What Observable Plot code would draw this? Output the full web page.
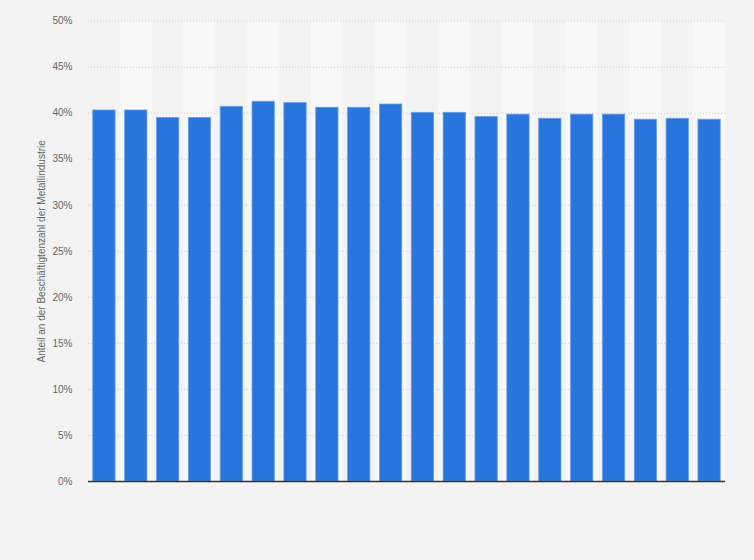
<!DOCTYPE html>
<html>
<head>
<meta charset="utf-8">
<script src="https://cdn.jsdelivr.net/npm/d3@7"></script>
<script src="https://cdn.jsdelivr.net/npm/@observablehq/plot@0.6"></script>
<style>
  html, body { margin: 0; padding: 0; background: #f3f3f3; }
  #chart { width: 754px; height: 560px; }
</style>
</head>
<body>
<div id="chart"></div>
<script>
const categories = ["2000","2001","2002","2003","2004","2005","2006","2007","2008","2009",
                    "2010","2011","2012","2013","2014","2015","2016","2017","2018","2019"];
const values = [40.3, 40.3, 39.5, 39.5, 40.7, 41.25, 41.1, 40.6, 40.6, 40.95,
                40.05, 40.05, 39.6, 39.85, 39.4, 39.85, 39.85, 39.3, 39.4, 39.3];
const yTicks = [0, 5, 10, 15, 20, 25, 30, 35, 40, 45, 50];
const yLabel = "Anteil an der Beschäftigtenzahl der Metallindustrie";

const data = categories.map((c, i) => ({category: c, value: values[i], index: i}));
const lightBands = data.filter(d => d.index % 2 === 1);

const fontFamily = "'Liberation Sans', Arial, Helvetica, sans-serif";

const chart = Plot.plot({
  width: 754,
  height: 560,
  marginLeft: 88,
  marginRight: 29,
  marginTop: 20.7,
  marginBottom: 79,
  style: {background: "#f3f3f3", fontFamily, fontSize: "10px", color: "#666"},
  x: {domain: categories, paddingInner: 0.3, paddingOuter: 0.15, round: false, axis: null},
  y: {domain: [0, 50], axis: null},
  marks: [
    Plot.barY(lightBands, {x: "category", y1: 0, y2: 50, fill: "#f8f8f8",
      insetLeft: -4.8, insetRight: -4.8}),
    Plot.ruleY(yTicks.filter(t => t > 0), {stroke: "#cfcfcf", strokeDasharray: "1,2", strokeWidth: 1}),
    Plot.barY(data, {x: "category", y: "value", fill: "#2876dd", stroke: "#6b9fe6", strokeWidth: 0.8}),
    Plot.ruleY([0], {stroke: "#333", strokeWidth: 1.5}),
    Plot.axisY(yTicks, {ticks: yTicks, tickSize: 0, tickPadding: 16, tickFormat: d => d + "%",
      fill: "#666", fontSize: 10, label: null}),
    Plot.text([yLabel], {frameAnchor: "left", textAnchor: "middle", dx: -47, rotate: -90,
      fill: "#666", fontSize: 10})
  ]
});
document.getElementById("chart").appendChild(chart);
</script>
</body>
</html>
